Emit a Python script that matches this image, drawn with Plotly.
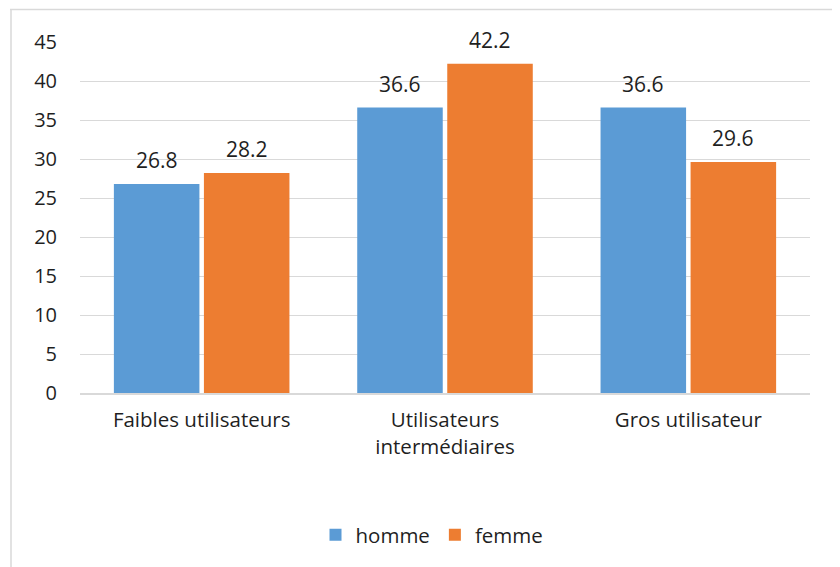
import plotly.graph_objects as go

categories = ["Faibles utilisateurs", "Utilisateurs<br>intermédiaires", "Gros utilisateur"]
homme = [26.8, 36.6, 36.6]
femme = [28.2, 42.2, 29.6]
series_names = ["homme", "femme"]
y_ticks = [0, 5, 10, 15, 20, 25, 30, 35, 40, 45]

OFF = 8  # page body margin
W, H = 840 - OFF, 567 - OFF
L, R, T, B = 80 - OFF, 30, 42 - OFF, 567 - 393
pw, ph = W - L - R, H - T - B

FONT = "'Open Sans', sans-serif"
TXT = "#1f1f1f"
FS = 20.5
colors = ["#5B9BD5", "#ED7D31"]

fig = go.Figure()
for name, vals, c in zip(series_names, [homme, femme], colors):
    fig.add_trace(go.Bar(x=categories, y=vals, name=name, marker=dict(color=c, line=dict(width=0))))

# data labels
bargap, groupgap = 0.26, 0.05
cat_px = pw / len(categories)
bar_px = cat_px * (1 - bargap) / 2
for i, vals in enumerate([homme, femme]):
    shift = (i - 0.5) * bar_px
    for cat, v in zip(categories, vals):
        fig.add_annotation(x=cat, y=v, text=f"{v:.1f}", showarrow=False, xshift=shift,
                           yanchor="bottom", yshift=8, font=dict(size=21, color=TXT, family=FONT))

# chart border (top and left), given in screen pixels
def px_x(p):
    return (p - OFF - L) / pw
def px_y(p):
    return (H - B - (p - OFF)) / ph
fig.add_shape(type="line", xref="paper", yref="paper", x0=px_x(10), x1=px_x(845),
              y0=px_y(9.5), y1=px_y(9.5), line=dict(color="#D9D9D9", width=1.5))
fig.add_shape(type="line", xref="paper", yref="paper", x0=px_x(11), x1=px_x(11),
              y0=px_y(9), y1=px_y(575), line=dict(color="#D9D9D9", width=1.5))

fig.update_layout(
    width=W, height=H,
    margin=dict(l=L, r=R, t=T, b=B),
    paper_bgcolor="white", plot_bgcolor="white",
    barmode="group", bargap=bargap, bargroupgap=groupgap,
    font=dict(family=FONT, size=FS, color=TXT),
    showlegend=True,
    legend=dict(orientation="h", x=px_x(432), xanchor="center", y=px_y(535), yanchor="middle",
                font=dict(size=FS, color=TXT), itemwidth=30, traceorder="normal"),
    xaxis=dict(showgrid=False, showline=True, linecolor="#D9D9D9", linewidth=1.5,
               ticks="", tickfont=dict(size=FS, color=TXT), ticklabelstandoff=8),
    yaxis=dict(range=[0, 45], tickvals=y_ticks, showgrid=True, gridcolor="#D9D9D9", gridwidth=1,
               zeroline=False, showline=False, ticks="", tickfont=dict(size=20, color=TXT),
               ticklabelstandoff=22),
)

fig.write_html("out.html")
